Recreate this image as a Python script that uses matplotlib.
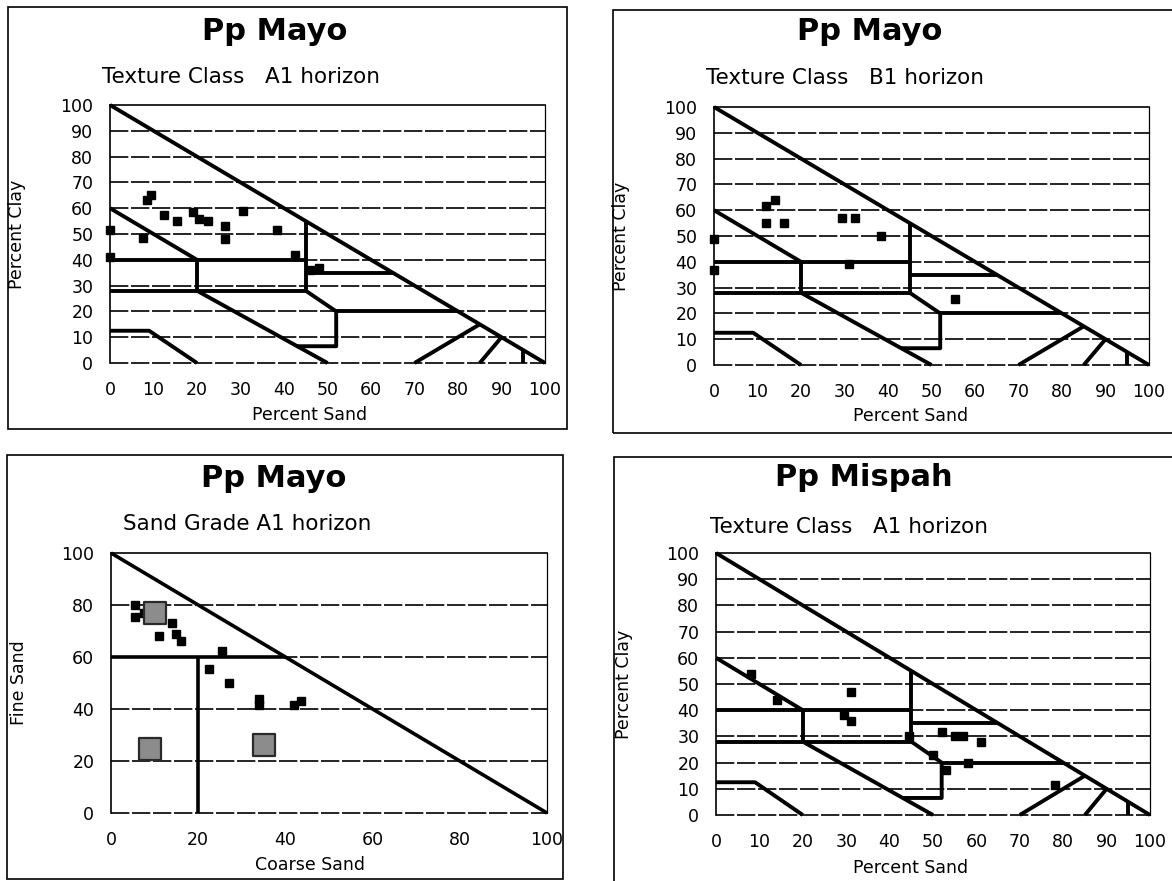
import matplotlib.pyplot as plt
from matplotlib.patches import Rectangle

W, H = 1172, 881

# texture class boundaries, (percent sand, percent clay)
texture_lines = [
    [(0, 100), (100, 0)],
    [(0, 60), (20, 40)],
    [(0, 40), (45, 40)],
    [(20, 40), (20, 28)],
    [(0, 28), (45, 28)],
    [(45, 28), (45, 55)],
    [(45, 35), (65, 35)],
    [(45, 28), (52, 20), (52, 6.5), (43, 6.5)],
    [(52, 20), (80, 20)],
    [(20, 28), (50, 0)],
    [(0, 12.5), (9, 12.5), (20, 0)],
    [(70, 0), (85, 15)],
    [(85, 0), (90, 10)],
    [(95, 0), (95, 5)],
]

# sand grade boundaries, (coarse sand, fine sand)
grade_lines = [
    [(0, 100), (100, 0)],
    [(0, 60), (40, 60)],
    [(20, 0), (20, 60)],
]

mayo_a1_sand = [0, 0, 7.5, 8.5, 9.5, 12.5, 15.5, 19, 20.5, 22.5, 26.5, 26.5, 30.5, 38.5, 42.5, 46, 48]
mayo_a1_clay = [51.5, 41, 48.5, 63, 65, 57.5, 55, 58.5, 56, 55, 53, 48, 59, 51.5, 42, 36, 37]

mayo_b1_sand = [0, 0, 12, 14, 12, 16, 29.5, 32.5, 31, 38.5, 55.5]
mayo_b1_clay = [49, 37, 61.5, 64, 55, 55, 57, 57, 39, 50, 25.5]

grade_coarse = [5.5, 5.5, 7.5, 11, 14, 15, 16, 25.5, 22.5, 27, 34, 34, 42, 43.5]
grade_fine = [80, 75.5, 77, 68, 73, 69, 66, 62.5, 55.5, 50, 44, 41.5, 41.5, 43]
grade_big_coarse = [10, 9, 35]
grade_big_fine = [77, 24.5, 26]

mispah_a1_sand = [8, 14, 31, 29.5, 31, 44.5, 52, 55, 57, 61, 50, 53, 58, 78]
mispah_a1_clay = [54, 44, 47, 38, 36, 30, 31.5, 30, 30, 28, 23, 17, 20, 11.5]

fig = plt.figure(figsize=(W / 100, H / 100), dpi=100)


def fx(px):
    return px / W


def fy(py):
    return 1 - py / H


def make_axes(x0, x1, ytop, ybot):
    return fig.add_axes([fx(x0), fy(ybot), (x1 - x0) / W, (ybot - ytop) / H])


def frame(x0, ytop, x1, ybot):
    fig.patches.append(Rectangle((fx(x0), fy(ybot)), (x1 - x0) / W, (ybot - ytop) / H,
                                 transform=fig.transFigure, fill=False,
                                 edgecolor="black", lw=1.2, clip_on=False))


def style_axes(ax, step):
    ticks = list(range(0, 101, step))
    ax.set_xlim(0, 100)
    ax.set_ylim(0, 100)
    ax.set_xticks(ticks)
    ax.set_yticks(ticks)
    ax.tick_params(length=0, labelsize=12.5)
    ax.tick_params(axis="x", pad=13)
    ax.tick_params(axis="y", pad=12)
    for t in ticks[:-1]:
        ax.axhline(t, color="black", lw=1.2, ls=(0, (11, 1.6)), zorder=1, clip_on=False)
    for side in ("left", "top"):
        ax.spines[side].set_linewidth(1.2)
    ax.spines["right"].set_linewidth(0.9)
    ax.spines["bottom"].set_visible(False)


def draw_lines(ax, lines, lw):
    for line in lines:
        xs, ys = zip(*line)
        ax.plot(xs, ys, color="black", lw=lw, solid_capstyle="butt", clip_on=False, zorder=3)


def texture_panel(ax, sand, clay):
    style_axes(ax, 10)
    draw_lines(ax, texture_lines, 2.8)
    ax.plot(sand, clay, "s", ms=6, color="black", clip_on=False, zorder=4)


# top left
ax1 = make_axes(110, 545, 105, 363)
texture_panel(ax1, mayo_a1_sand, mayo_a1_clay)
frame(8, 7, 567, 429)
fig.text(fx(275), fy(32), "Pp Mayo", ha="center", va="center", fontsize=22, fontweight="bold")
fig.text(fx(102), fy(77), "Texture Class   A1 horizon", ha="left", va="center", fontsize=15.5)
fig.text(fx(310), fy(415), "Percent Sand", ha="center", va="center", fontsize=12.5)
fig.text(fx(17), fy(234), "Percent Clay", ha="center", va="center", rotation=90, fontsize=12.5)

# top right
ax2 = make_axes(714, 1149, 107, 365)
texture_panel(ax2, mayo_b1_sand, mayo_b1_clay)
frame(613, 10, 1190, 433)
fig.text(fx(870), fy(32), "Pp Mayo", ha="center", va="center", fontsize=22, fontweight="bold")
fig.text(fx(706), fy(78), "Texture Class   B1 horizon", ha="left", va="center", fontsize=15.5)
fig.text(fx(911), fy(416), "Percent Sand", ha="center", va="center", fontsize=12.5)
fig.text(fx(621), fy(236), "Percent Clay", ha="center", va="center", rotation=90, fontsize=12.5)

# bottom left
ax3 = make_axes(111, 547, 553, 813)
style_axes(ax3, 20)
draw_lines(ax3, grade_lines, 2.6)
ax3.plot(grade_coarse, grade_fine, "s", ms=6, color="black", zorder=4)
ax3.scatter(grade_big_coarse, grade_big_fine, marker="s", s=230, facecolor="#8c8c8c",
            edgecolor="#2a2a2a", linewidths=1.6, zorder=5)
frame(7, 455, 563, 879)
fig.text(fx(274), fy(478), "Pp Mayo", ha="center", va="center", fontsize=22, fontweight="bold")
fig.text(fx(123), fy(524), "Sand Grade A1 horizon", ha="left", va="center", fontsize=15.5)
fig.text(fx(310), fy(865), "Coarse Sand", ha="center", va="center", fontsize=12.5)
fig.text(fx(19), fy(683), "Fine Sand", ha="center", va="center", rotation=90, fontsize=12.5)

# bottom right
ax4 = make_axes(716, 1150, 553, 815)
texture_panel(ax4, mispah_a1_sand, mispah_a1_clay)
frame(614, 457, 1190, 900)
fig.text(fx(864), fy(477), "Pp Mispah", ha="center", va="center", fontsize=22, fontweight="bold")
fig.text(fx(710), fy(527), "Texture Class   A1 horizon", ha="left", va="center", fontsize=15.5)
fig.text(fx(911), fy(868), "Percent Sand", ha="center", va="center", fontsize=12.5)
fig.text(fx(624), fy(684), "Percent Clay", ha="center", va="center", rotation=90, fontsize=12.5)

fig.savefig("out.png", dpi=100)
